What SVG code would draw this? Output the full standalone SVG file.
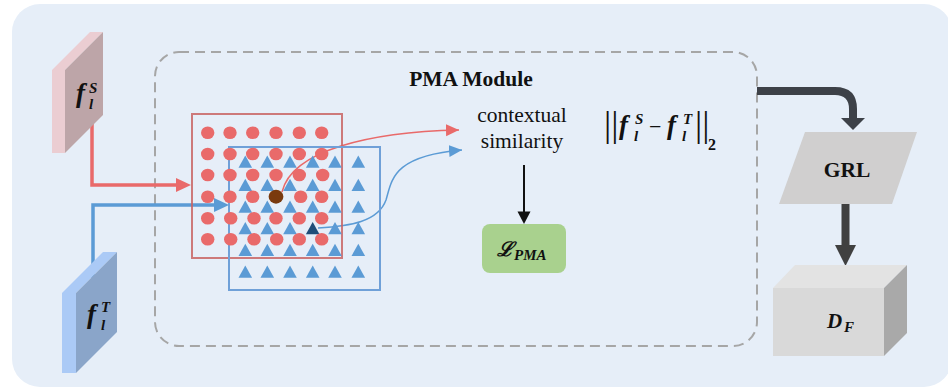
<svg xmlns="http://www.w3.org/2000/svg" xmlns:xlink="http://www.w3.org/1999/xlink" width="948" height="389" viewBox="0 0 948 389">
<defs>
<style>
.serif{fill:#111}
.math{font-weight:bold;font-style:italic;fill:#111}
.dot{fill:#e96a6a}
.tri{fill:#5b9bd5}
.thin{fill:none;stroke-width:1.5}
</style>
<ellipse id="dot" cx="0" cy="0" rx="6.7" ry="6.3"/>
<polygon id="tri" points="0,-6.2 6.8,6 -6.8,6"/>
<marker id="ahRed" markerUnits="userSpaceOnUse" markerWidth="14" markerHeight="14" refX="13" refY="6.5" orient="auto" viewBox="0 0 14 14"><path d="M0,0.5 L13,6.5 L0,12.5 z" fill="#e96a6a"/></marker>
<marker id="ahBlue" markerUnits="userSpaceOnUse" markerWidth="14" markerHeight="14" refX="13" refY="6.5" orient="auto" viewBox="0 0 14 14"><path d="M0,0.5 L13,6.5 L0,12.5 z" fill="#5b9bd5"/></marker>
</defs>

<rect x="12" y="4" width="940" height="383" rx="28" fill="#e6eef8"/>

<g font-family="'Liberation Serif', 'Times New Roman', serif">

<g id="pma-module">
<rect x="155" y="52" width="602" height="294" rx="24" fill="none" stroke="#a6a6a6" stroke-width="2" stroke-dasharray="10,6"/>
<text class="serif" font-weight="bold" x="471" y="86" font-size="21.5" text-anchor="middle">PMA Module</text>
</g>

<g id="connectors">
<polyline points="92,118 92,185 178,185" fill="none" stroke="#e96a6a" stroke-width="3.5"/>
<polygon points="176,178 191,185 176,192" fill="#e96a6a"/>
<polyline points="93,280 93,205 216,205" fill="none" stroke="#5b9bd5" stroke-width="3.5"/>
<polygon points="214,198 229,205 214,212" fill="#5b9bd5"/>
<path d="M282,192 C292,150 370,132 459,130" class="thin" stroke="#e96a6a" marker-end="url(#ahRed)"/>
<path d="M318,228 C350,226 378,222 386,200 C392,180 392,156 462,150" class="thin" stroke="#5b9bd5" marker-end="url(#ahBlue)"/>
<line x1="524" y1="165" x2="524" y2="213" stroke="#111" stroke-width="2"/>
<polygon points="517.5,211.5 530.5,211.5 524,224" fill="#111"/>
<path d="M757,91 H835 Q853,91 853,109 V119" fill="none" stroke="#3d4148" stroke-width="8"/>
<polygon points="841,118 865,118 853,130" fill="#3d4148"/>
<line x1="845.5" y1="204" x2="845.5" y2="246" stroke="#404040" stroke-width="8"/>
<polygon points="835,245 856,245 845.5,266" fill="#404040"/>
</g>

<g id="feature-source">
<polygon points="52,70 90,32 103,32 65,70 65,153 52,153" fill="#ebcdd2"/>
<polygon points="65,70 103,32 103,115 65,153" fill="#bda5a8"/>
<text class="math" x="76" y="102" font-size="27">f</text>
<text class="math" x="89" y="93" font-size="15">S</text>
<text class="math" x="89" y="109" font-size="15">l</text>
</g>

<g id="feature-target">
<polygon points="62,293 103,252 117,252 76,293 76,373 62,373" fill="#abcaf6"/>
<polygon points="76,293 117,252 117,332 76,373" fill="#8aa5c9"/>
<text class="math" x="87" y="323" font-size="27">f</text>
<text class="math" x="101" y="312" font-size="15">T</text>
<text class="math" x="101" y="330" font-size="15">l</text>
</g>

<g id="patch-grid">
<rect x="192" y="114" width="150" height="144" fill="none" stroke="#c86464" stroke-opacity="0.85" stroke-width="2"/>
<rect x="229" y="147" width="151" height="143" fill="none" stroke="#6fa0d8" stroke-width="2"/>
<g class="tri">
<use xlink:href="#tri" x="245.3" y="161.7"/><use xlink:href="#tri" x="267.3" y="161.7"/><use xlink:href="#tri" x="290" y="161.7"/><use xlink:href="#tri" x="312.7" y="161.7"/><use xlink:href="#tri" x="335" y="161.7"/><use xlink:href="#tri" x="358.3" y="161.7"/>
<use xlink:href="#tri" x="245.3" y="185"/><use xlink:href="#tri" x="267.3" y="185"/><use xlink:href="#tri" x="290" y="185"/><use xlink:href="#tri" x="312.7" y="185"/><use xlink:href="#tri" x="335" y="185"/><use xlink:href="#tri" x="358.3" y="185"/>
<use xlink:href="#tri" x="245.3" y="206.7"/><use xlink:href="#tri" x="267.3" y="206.7"/><use xlink:href="#tri" x="290" y="206.7"/><use xlink:href="#tri" x="312.7" y="206.7"/><use xlink:href="#tri" x="335" y="206.7"/><use xlink:href="#tri" x="358.3" y="206.7"/>
<use xlink:href="#tri" x="245.3" y="228.3"/><use xlink:href="#tri" x="267.3" y="228.3"/><use xlink:href="#tri" x="290" y="228.3"/><use xlink:href="#tri" x="335" y="228.3"/><use xlink:href="#tri" x="358.3" y="228.3"/>
<use xlink:href="#tri" x="245.3" y="250"/><use xlink:href="#tri" x="267.3" y="250"/><use xlink:href="#tri" x="290" y="250"/><use xlink:href="#tri" x="312.7" y="250"/><use xlink:href="#tri" x="335" y="250"/><use xlink:href="#tri" x="358.3" y="250"/>
<use xlink:href="#tri" x="245.3" y="271.7"/><use xlink:href="#tri" x="267.3" y="271.7"/><use xlink:href="#tri" x="290" y="271.7"/><use xlink:href="#tri" x="312.7" y="271.7"/><use xlink:href="#tri" x="335" y="271.7"/><use xlink:href="#tri" x="358.3" y="271.7"/>
</g>
<use xlink:href="#tri" x="312.7" y="228.3" fill="#1f4e79"/>
<g class="dot">
<use xlink:href="#dot" x="207.7" y="132.7"/><use xlink:href="#dot" x="230" y="132.7"/><use xlink:href="#dot" x="252.7" y="132.7"/><use xlink:href="#dot" x="276" y="132.7"/><use xlink:href="#dot" x="299.3" y="132.7"/><use xlink:href="#dot" x="321.7" y="132.7"/>
<use xlink:href="#dot" x="207.7" y="154"/><use xlink:href="#dot" x="230" y="154"/><use xlink:href="#dot" x="252.7" y="154"/><use xlink:href="#dot" x="276" y="154"/><use xlink:href="#dot" x="299.3" y="154"/><use xlink:href="#dot" x="321.7" y="154"/>
<use xlink:href="#dot" x="207.7" y="175"/><use xlink:href="#dot" x="230" y="175"/><use xlink:href="#dot" x="252.7" y="175"/><use xlink:href="#dot" x="276" y="175"/><use xlink:href="#dot" x="299.3" y="175"/><use xlink:href="#dot" x="322.7" y="175"/>
<use xlink:href="#dot" x="207.7" y="196.7"/><use xlink:href="#dot" x="230" y="196.7"/><use xlink:href="#dot" x="252.7" y="196.7"/><use xlink:href="#dot" x="300.7" y="196.7"/><use xlink:href="#dot" x="321.7" y="196.7"/>
<use xlink:href="#dot" x="207.7" y="218.3"/><use xlink:href="#dot" x="230.7" y="218.3"/><use xlink:href="#dot" x="254" y="218.3"/><use xlink:href="#dot" x="276" y="218.3"/><use xlink:href="#dot" x="299.3" y="218.3"/><use xlink:href="#dot" x="321.7" y="218.3"/>
<use xlink:href="#dot" x="207.7" y="239.3"/><use xlink:href="#dot" x="230.7" y="239.3"/><use xlink:href="#dot" x="254" y="239.3"/><use xlink:href="#dot" x="276.7" y="239.3"/><use xlink:href="#dot" x="299.3" y="239.3"/><use xlink:href="#dot" x="321.7" y="239.3"/>
</g>
<use xlink:href="#dot" x="276" y="196.7" fill="#7a3a0e" transform="translate(276,196.7) scale(1.1) translate(-276,-196.7)"/>
</g>

<g id="contextual-similarity">
<text class="serif" x="522" y="122" font-size="21.5" text-anchor="middle">contextual</text>
<text class="serif" x="522" y="148" font-size="21.5" text-anchor="middle">similarity</text>
</g>

<g id="norm">
<text class="serif" x="604" y="136" font-size="36">||</text>
<text class="math" x="619" y="134" font-size="27">f</text>
<text class="math" x="635" y="124" font-size="15">S</text>
<text class="math" x="634" y="141" font-size="15">l</text>
<text class="serif" x="649" y="134" font-size="22">−</text>
<text class="math" x="667" y="134" font-size="27">f</text>
<text class="math" x="683" y="124" font-size="15">T</text>
<text class="math" x="682" y="141" font-size="15">l</text>
<text class="serif" x="695" y="136" font-size="36">||</text>
<text class="serif" font-weight="bold" x="708" y="150" font-size="16">2</text>
</g>

<g id="loss-pma">
<rect x="482" y="224" width="84" height="49" rx="8" fill="#a9d18e"/>
<text x="497" y="256" font-size="20" font-family="'DejaVu Serif', serif" font-weight="bold" font-style="italic" fill="#111">ℒ</text>
<text class="math" x="514" y="260" font-size="15">PMA</text>
</g>

<g id="grl">
<polygon points="805,132 917,132 892,204 779,204" fill="#d0cfcf"/>
<text class="serif" font-weight="bold" x="847" y="177" font-size="21.5" text-anchor="middle">GRL</text>
</g>

<g id="discriminator">
<polygon points="773,288 795,265 907,265 884,288" fill="#e3e3e3"/>
<polygon points="884,288 907,265 907,333 884,356" fill="#a9a9a9"/>
<rect x="773" y="288" width="111" height="68" fill="#d9d9d9"/>
<text class="math" x="827" y="327.5" font-size="21">D</text>
<text class="math" x="844" y="332" font-size="15">F</text>
</g>

</g>
</svg>
